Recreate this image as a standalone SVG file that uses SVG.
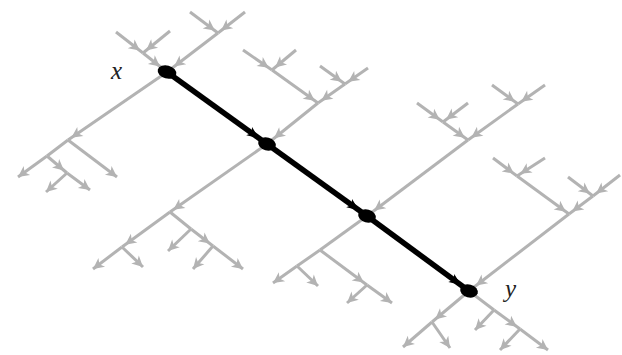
<svg xmlns="http://www.w3.org/2000/svg" width="622" height="355" viewBox="0 0 622 355">
<style>
.g{stroke:#b3b3b3;stroke-width:3;fill:none}
.g0{marker-end:url(#g0)}
.g4{marker-end:url(#g4)}
.g10{marker-end:url(#g10)}
.b{stroke:#000;stroke-width:5.5;fill:none;marker-end:url(#b)}
.n{fill:#000}
.lbl{font-family:"Liberation Serif",serif;font-style:italic;font-size:25px;fill:#222}
</style>
<defs>
<marker id="g0" markerUnits="userSpaceOnUse" markerWidth="26" markerHeight="12" refX="11" refY="6" orient="auto" overflow="visible"><path d="M0,0.5 L11,6 L0,11.5 L3,6 z" fill="#b3b3b3"/></marker>
<marker id="g4" markerUnits="userSpaceOnUse" markerWidth="26" markerHeight="12" refX="15" refY="6" orient="auto" overflow="visible"><path d="M0,0.5 L11,6 L0,11.5 L3,6 z" fill="#b3b3b3"/></marker>
<marker id="g10" markerUnits="userSpaceOnUse" markerWidth="26" markerHeight="12" refX="20" refY="6" orient="auto" overflow="visible"><path d="M0,0.5 L11,6 L0,11.5 L3,6 z" fill="#b3b3b3"/></marker>
<marker id="b" markerUnits="userSpaceOnUse" markerWidth="28" markerHeight="12" refX="22" refY="6" orient="auto" overflow="visible"><path d="M0,1 L12,6 L0,11 L3,6 z" fill="#000"/></marker>
</defs>
<g id="connectors">
<g id="in-x">
<line class="g g4" x1="116" y1="32" x2="143" y2="53"/>
<line class="g g4" x1="170" y1="31" x2="143" y2="53"/>
<line class="g g10" x1="143" y1="53" x2="167" y2="72"/>
<line class="g g4" x1="190" y1="12" x2="218" y2="33"/>
<line class="g g4" x1="245" y1="12" x2="218" y2="33"/>
<line class="g g10" x1="218" y1="33" x2="167" y2="72"/>
</g>
<g id="in-n1">
<line class="g g4" x1="243" y1="50" x2="272" y2="70"/>
<line class="g g4" x1="296" y1="50" x2="272" y2="70"/>
<line class="g g4" x1="272" y1="70" x2="318" y2="103"/>
<line class="g g4" x1="368" y1="68" x2="345" y2="84"/>
<line class="g g4" x1="320" y1="66" x2="345" y2="84"/>
<line class="g g4" x1="345" y1="84" x2="318" y2="103"/>
<line class="g g10" x1="318" y1="103" x2="267" y2="144"/>
</g>
<g id="in-n2">
<line class="g g4" x1="417" y1="103" x2="443" y2="122"/>
<line class="g g4" x1="468" y1="103" x2="443" y2="122"/>
<line class="g g4" x1="443" y1="122" x2="468" y2="140"/>
<line class="g g4" x1="545" y1="85" x2="518" y2="104"/>
<line class="g g4" x1="492" y1="85" x2="518" y2="104"/>
<line class="g g4" x1="518" y1="104" x2="468" y2="140"/>
<line class="g g10" x1="468" y1="140" x2="367" y2="216"/>
</g>
<g id="in-y">
<line class="g g4" x1="493" y1="158" x2="517" y2="176"/>
<line class="g g4" x1="545" y1="158" x2="517" y2="176"/>
<line class="g g4" x1="517" y1="176" x2="569" y2="214"/>
<line class="g g4" x1="620" y1="175" x2="593" y2="196"/>
<line class="g g4" x1="568" y1="177" x2="593" y2="196"/>
<line class="g g4" x1="593" y1="196" x2="569" y2="214"/>
<line class="g g10" x1="569" y1="214" x2="469" y2="291"/>
</g>
<g id="out-x">
<line class="g g4" x1="167" y1="72" x2="68" y2="140"/>
<line class="g g0" x1="68" y1="140" x2="117" y2="177"/>
<line class="g" x1="68" y1="140" x2="47" y2="156"/>
<line class="g g0" x1="47" y1="156" x2="18" y2="177"/>
<line class="g g4" x1="47" y1="156" x2="67" y2="173"/>
<line class="g g0" x1="67" y1="173" x2="90" y2="190"/>
<line class="g g0" x1="67" y1="173" x2="46" y2="192"/>
</g>
<g id="out-n1">
<line class="g g4" x1="267" y1="144" x2="170" y2="212"/>
<line class="g g4" x1="170" y1="212" x2="122" y2="247"/>
<line class="g g0" x1="122" y1="247" x2="93" y2="269"/>
<line class="g g0" x1="122" y1="247" x2="143" y2="267"/>
<line class="g" x1="170" y1="212" x2="191" y2="229"/>
<line class="g g0" x1="191" y1="229" x2="168" y2="251"/>
<line class="g g4" x1="191" y1="229" x2="213" y2="246"/>
<line class="g g0" x1="213" y1="246" x2="193" y2="269"/>
<line class="g g0" x1="213" y1="246" x2="243" y2="269"/>
</g>
<g id="out-n2">
<line class="g" x1="367" y1="216" x2="320" y2="250"/>
<line class="g" x1="320" y1="250" x2="297" y2="266"/>
<line class="g g0" x1="297" y1="266" x2="273" y2="283"/>
<line class="g g0" x1="297" y1="266" x2="318" y2="286"/>
<line class="g g4" x1="320" y1="250" x2="367" y2="285"/>
<line class="g g0" x1="367" y1="285" x2="347" y2="303"/>
<line class="g g0" x1="367" y1="285" x2="392" y2="303"/>
</g>
<g id="out-y">
<line class="g g4" x1="469" y1="291" x2="432" y2="322"/>
<line class="g g0" x1="432" y1="322" x2="403" y2="347"/>
<line class="g g0" x1="432" y1="322" x2="450" y2="348"/>
<line class="g" x1="469" y1="291" x2="494" y2="310"/>
<line class="g g0" x1="494" y1="310" x2="475" y2="330"/>
<line class="g g4" x1="494" y1="310" x2="520" y2="329"/>
<line class="g g0" x1="520" y1="329" x2="500" y2="350"/>
<line class="g g0" x1="520" y1="329" x2="548" y2="350"/>
</g>
<g id="path">
<line class="b" x1="167" y1="72" x2="267" y2="144"/>
<line class="b" x1="267" y1="144" x2="367" y2="216"/>
<line class="b" x1="367" y1="216" x2="469" y2="291"/>
</g>
</g>
<g id="node-x"><ellipse class="n" cx="167" cy="72" rx="9.5" ry="6.5" transform="rotate(15 167 72)"/><text class="lbl" x="111" y="79">x</text></g>
<g id="node-1"><ellipse class="n" cx="267" cy="144" rx="9" ry="6.5" transform="rotate(15 267 144)"/></g>
<g id="node-2"><ellipse class="n" cx="367" cy="216" rx="9" ry="6.5" transform="rotate(15 367 216)"/></g>
<g id="node-y"><ellipse class="n" cx="469" cy="291" rx="9" ry="6.5" transform="rotate(15 469 291)"/><text class="lbl" x="505" y="297">y</text></g>
</svg>
